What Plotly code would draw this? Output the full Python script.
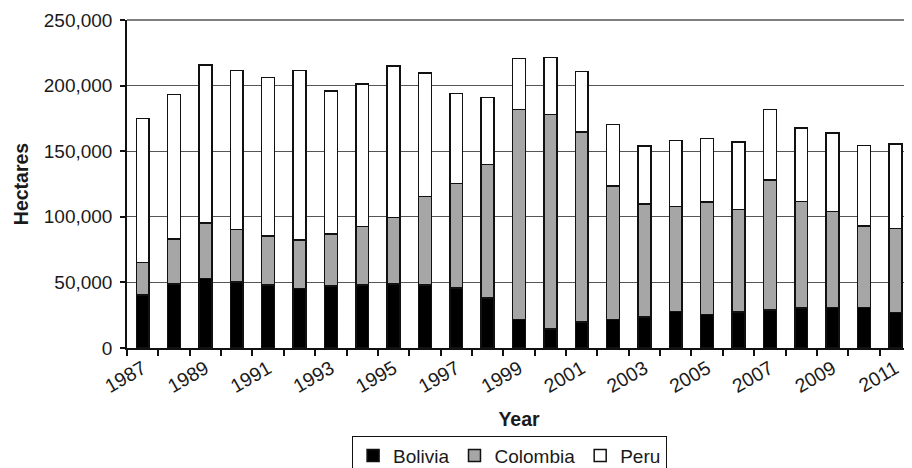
import plotly.graph_objects as go

years = list(range(1987, 2012))
bolivia = [40300, 48900, 52900, 50300, 47900, 45300, 47200, 48100, 48600, 48100,
           45800, 38000, 21800, 14600, 19900, 21600, 23600, 27700, 25400, 27500,
           28900, 30500, 30900, 31000, 27200]
colombia = [25000, 34000, 42400, 40100, 37500, 37100, 39700, 44700, 50900, 67200,
            79400, 101800, 160100, 163300, 144800, 102000, 86000, 80000, 86000, 78000,
            99000, 81000, 73000, 62000, 64000]
peru = [109500, 110400, 120400, 121300, 120800, 129100, 108800, 108600, 115300, 94400,
        68800, 51000, 38700, 43400, 46200, 46700, 44200, 50300, 48200, 51400,
        53700, 56100, 59900, 61200, 64400]
label_years = list(range(1987, 2012, 2))
ytick_vals = [0, 50000, 100000, 150000, 200000, 250000]

FONT = "Arial, Liberation Sans, sans-serif"
TXT = "#1a1a1a"
FS = 19.5

fig = go.Figure()
for name, vals, col in [("Bolivia", bolivia, "#000000"),
                        ("Colombia", colombia, "#a6a6a6"),
                        ("Peru", peru, "#ffffff")]:
    fig.add_trace(go.Bar(x=years, y=vals, name=name, width=0.41,
                         marker=dict(color=col, line=dict(color="#111111", width=1.5))))

fig.update_layout(
    barmode="stack",
    width=904, height=460,
    margin=dict(l=119, r=1, t=12, b=120, autoexpand=False),
    paper_bgcolor="white", plot_bgcolor="white",
    font=dict(family=FONT, size=FS, color=TXT),
    showlegend=True,
    legend=dict(orientation="h", x=0.488, xanchor="center", y=-0.267, yanchor="top",
                bordercolor="#111111", borderwidth=1, itemwidth=30,
                font=dict(size=19), traceorder="normal", tracegroupgap=0),
    xaxis=dict(range=[1986.5, 2011.5], tickmode="array", tickvals=label_years,
               ticktext=[str(y) for y in label_years], tickangle=-30, ticks="",
               showgrid=False, showline=True, linecolor="#111111", linewidth=1.5,
               tickfont=dict(size=FS), automargin=False, ticklabeloverflow="allow",
               minor=dict(tickmode="array", tickvals=[y + 0.5 for y in range(1986, 2012)],
                          ticks="outside", ticklen=6, tickcolor="#111111", tickwidth=1.5,
                          showgrid=False),
               title=dict(text="<b>Year</b>", font=dict(size=FS), standoff=16)),
    yaxis=dict(range=[0, 250000], tickvals=ytick_vals, tickformat=",",
               ticks="outside", ticklen=5, tickcolor="#111111", tickwidth=1.5,
               showgrid=True, gridcolor="#555555", gridwidth=1.2,
               showline=True, linecolor="#111111", linewidth=1.5, automargin=False,
               ticklabelstandoff=4, tickfont=dict(size=19), ticklabeloverflow="allow",
               title=dict(text="<b>Hectares</b>", font=dict(size=FS), standoff=10)),
    shapes=[dict(type="line", xref="paper", yref="paper", x0=1, x1=1, y0=0, y1=1,
                 line=dict(color="#555555", width=1.5)),
            dict(type="line", xref="paper", yref="paper", x0=0, x1=1, y0=1, y1=1,
                 line=dict(color="#555555", width=1.5))],
)

fig.write_html("out.html")
